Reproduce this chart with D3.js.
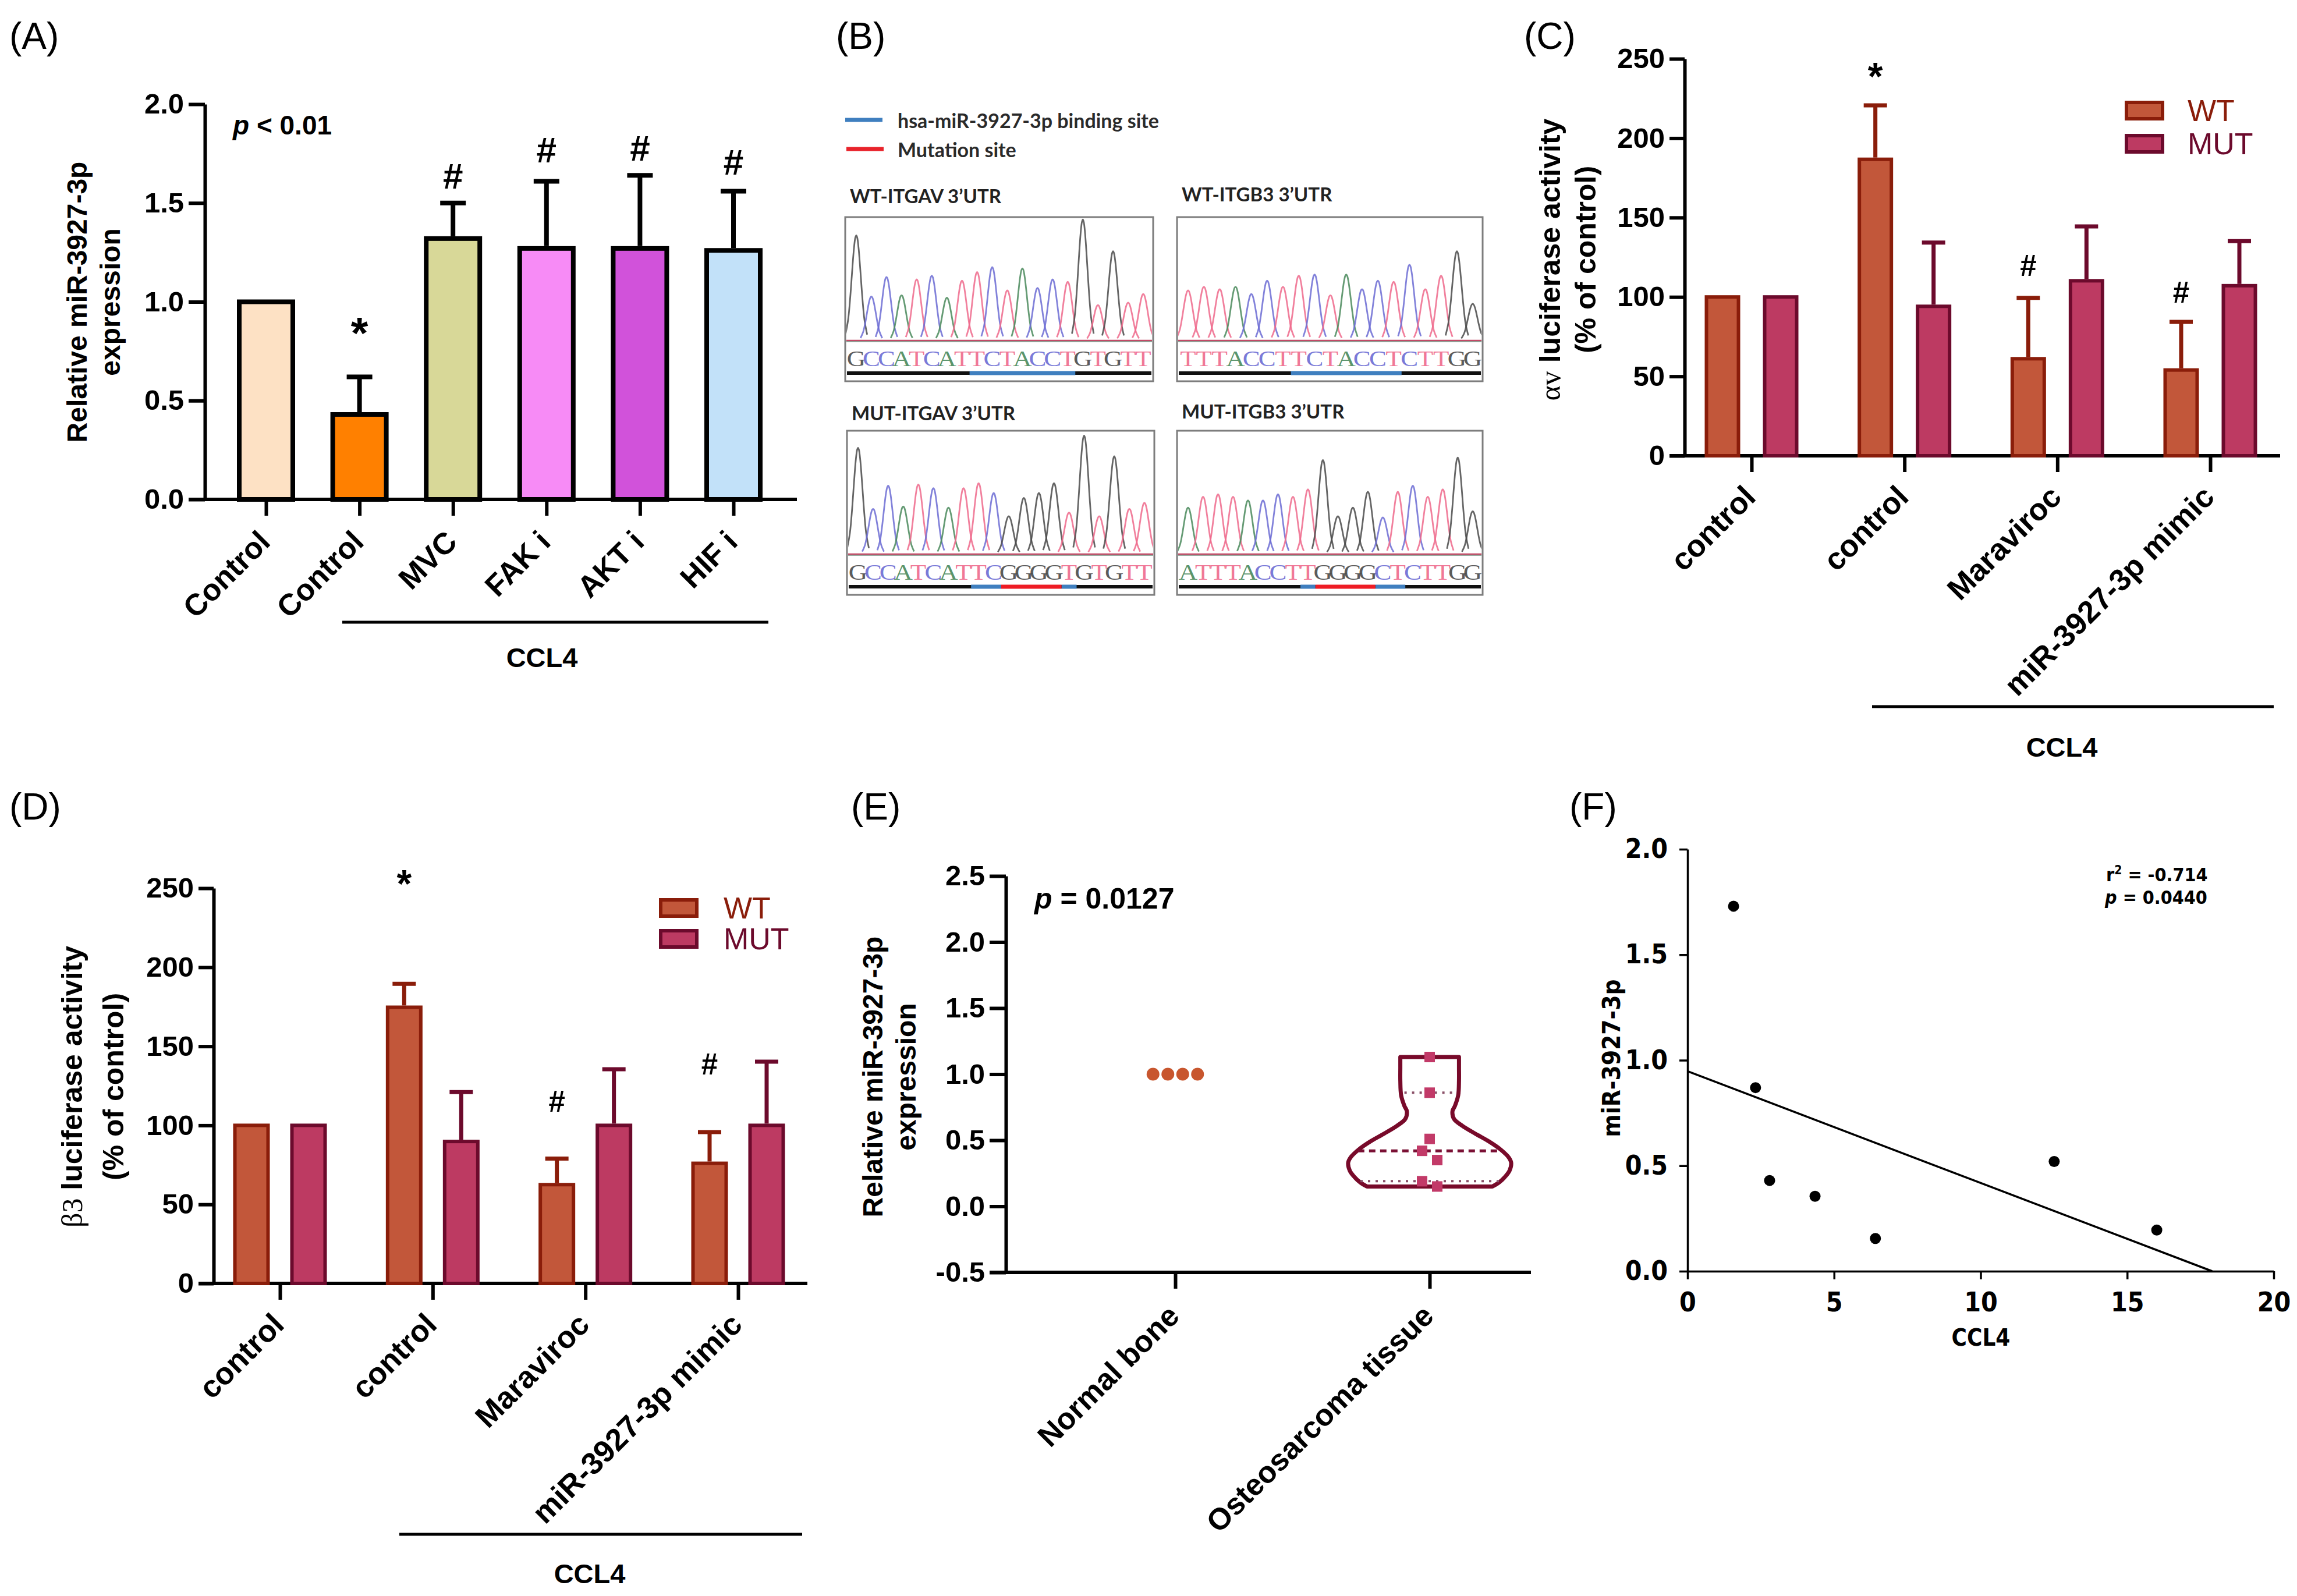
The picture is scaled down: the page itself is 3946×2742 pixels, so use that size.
<!DOCTYPE html>
<html><head><meta charset="utf-8">
<script src="https://cdn.jsdelivr.net/npm/d3@7"></script>
<style>
body{margin:0;background:#fff}
svg{display:block}
</style></head><body>
<svg id="fig" width="3946" height="2742"></svg>
<script>
// ================= DATA =================
// Panel A
const aCategories = ["Control","Control","MVC","FAK i","AKT i","HIF i"];
const aValues = [1.0, 0.43, 1.32, 1.27, 1.27, 1.26];
const aErrors = [0, 0.19, 0.18, 0.34, 0.37, 0.30];
const aMarks = ["", "*", "#", "#", "#", "#"];
const aMarkY = [0, 0.89, 1.64, 1.77, 1.78, 1.71];
const aColors = ["#FDE1C4","#FF8000","#D8D898","#F78BF6","#D152DA","#C2E1F9"];
const aTicks = [0, 0.5, 1.0, 1.5, 2.0];

// Panel B (chromatograms)
const bSeqWtAv = "GCCATCATTCTACCTGTGTT";
const bPeakWtAv = [0.86,0.36,0.52,0.37,0.50,0.53,0.35,0.49,0.56,0.60,0.41,0.59,0.43,0.50,0.48,0.99,0.29,0.73,0.31,0.38];
const bSeqWtB3 = "TTTACCTTCTACCTCTTGG";
const bPeakWtB3 = [0.41,0.44,0.42,0.44,0.38,0.49,0.44,0.53,0.54,0.37,0.54,0.42,0.49,0.48,0.62,0.42,0.53,0.73,0.30];
const bSeqMutAv = "GCCATCATTCGGGGTGTGTT";
const bPeakMutAv = [0.87,0.37,0.56,0.39,0.57,0.54,0.38,0.54,0.58,0.50,0.31,0.46,0.50,0.58,0.34,0.97,0.31,0.80,0.37,0.42];
const bSeqMutB3 = "ATTTACCTTGGGGCTCTTGG";
const bPeakMutB3 = [0.38,0.47,0.49,0.47,0.44,0.44,0.49,0.47,0.53,0.77,0.31,0.38,0.51,0.30,0.51,0.56,0.47,0.53,0.79,0.35];
const bBindWtAv = [[8,14]];  const bMutWtAv = [];
const bBindMutAv = [[8,9],[14,14]]; const bMutMutAv = [[10,13]];
const bBindWtB3 = [[7,13]];  const bMutWtB3 = [];
const bBindMutB3 = [[8,8],[13,14]]; const bMutMutB3 = [[9,12]];
const bTitles = ["WT-ITGAV 3\u2019UTR","WT-ITGB3 3\u2019UTR","MUT-ITGAV 3\u2019UTR","MUT-ITGB3 3\u2019UTR"];
const bLegend = ["hsa-miR-3927-3p binding site","Mutation site"];

// Panel C (alpha v luciferase)
const cCategories = ["control","control","Maraviroc","miR-3927-3p mimic"];
const cWT = [100, 186.7, 61.1, 54.0];
const cWTerr = [0, 34.0, 38.3, 30.3];
const cMUT = [100, 94.1, 110.2, 107.1];
const cMUTerr = [0, 40.2, 34.2, 28.1];
const cMarks = ["", "*", "#", "#"];
const cMarkY = [0, 244, 120, 103];

// Panel D (beta3 luciferase)
const dCategories = ["control","control","Maraviroc","miR-3927-3p mimic"];
const dWT = [100, 174.7, 62.5, 76.0];
const dWTerr = [0, 14.8, 16.5, 19.7];
const dMUT = [100, 89.8, 100, 100];
const dMUTerr = [0, 31.2, 35.5, 40.3];
const dMarks = ["", "*", "#", "#"];
const dMarkY = [0, 258, 115.5, 139];
const lucTicks = [0, 50, 100, 150, 200, 250];
const seriesNames = ["WT","MUT"];

// Panel E
const eGroups = ["Normal bone","Osteosarcoma tissue"];
const eNormal = [1.0, 1.0, 1.0, 1.0];
const eNormalSlot = [-1.5, -0.5, 0.5, 1.5];
const eTumor = [1.13, 0.86, 0.51, 0.42, 0.35, 0.19, 0.15];
const eTumorSlot = [0, 0, 0, -1, 1, -1, 1];
const eViolinLevel = [1.13,1.05,0.95,0.84,0.76,0.72,0.66,0.61,0.55,0.49,0.43,0.37,0.33,0.27,0.22,0.18,0.15];
const eViolinDensity = [0.36,0.36,0.36,0.35,0.31,0.28,0.30,0.40,0.56,0.73,0.87,0.97,1.0,0.98,0.92,0.85,0.77];
const eQuartiles = [0.86, 0.42, 0.19];
const eQuartileDensity = [0.31, 0.88, 0.85];
const eTicks = [-0.5, 0.0, 0.5, 1.0, 1.5, 2.0, 2.5];

// Panel F
const fCCL4 = [1.57, 2.32, 2.80, 4.35, 6.41, 12.51, 16.01];
const fMiR = [1.73, 0.87, 0.43, 0.355, 0.155, 0.52, 0.195];
const fFitX = [0, 17.9];
const fFitY = [0.948, 0];
const fXTicks = [0, 5, 10, 15, 20];
const fYTicks = [0, 0.5, 1.0, 1.5, 2.0];

const panelLabels = ["(A)","(B)","(C)","(D)","(E)","(F)"];

// ================= DRAWING =================
const FONT = '"Liberation Sans", Arial, Helvetica, sans-serif';
const NARROW = '"Liberation Sans Narrow", "Arial Narrow", "DejaVu Sans Condensed", sans-serif';
const SERIF = '"Liberation Serif", "Times New Roman", serif';
const CAL = 'Lato, "Open Sans", sans-serif';

const svg = d3.select("#fig");
svg.append("rect").attr("width",3946).attr("height",2742).attr("fill","#fff");

function txt(g, s, x, y, o = {}) {
  const t = g.append("text").attr("x", x).attr("y", y).text(s)
    .style("font-family", o.fam || FONT).style("font-size", (o.fs || 48) + "px")
    .style("font-weight", o.fw || "bold").style("font-style", o.fi || "normal")
    .attr("fill", o.fill || "#000").attr("text-anchor", o.anchor || "start");
  if (o.db) t.attr("dominant-baseline", o.db);
  return t;
}
function styleAxis(g, o) {
  g.select(".domain").attr("stroke", "#000").attr("stroke-width", o.sw);
  g.selectAll(".tick line").attr("stroke", "#000").attr("stroke-width", o.sw);
  g.selectAll(".tick text").attr("fill", "#000")
    .style("font-family", o.fam || FONT).style("font-size", o.fs + "px").style("font-weight", o.fw || "bold");
}
function yLabel2(g, lines, xs, yc, fs) {
  lines.forEach((s, i) => {
    g.append("text").attr("transform", `translate(${xs[i]},${yc}) rotate(-90)`)
      .attr("text-anchor", "middle").attr("dominant-baseline", "central")
      .style("font-family", FONT).style("font-size", fs + "px").style("font-weight", "bold").text(s);
  });
}
function rotLabel(g, s, x, y, fs) {
  g.append("text").attr("transform", `translate(${x},${y}) rotate(-45)`)
    .attr("text-anchor", "end").style("font-family", FONT).style("font-size", fs + "px").style("font-weight", "bold").text(s);
}
function markBaseline(m, fs) { return m === "*" ? 0.55 * fs : 0.36 * fs; }

// Panel labels
const plPos = [[16,84],[1436,84],[2618,84],[16,1408],[1462,1408],[2696,1408]];
panelLabels.forEach((s, i) => txt(svg, s, plPos[i][0], plPos[i][1], {fs: 64, fw: "normal"}));

// ---------- Panel A ----------
{
  const g = svg.append("g");
  const y = d3.scaleLinear().domain([0, 2]).range([858, 179]);
  const x = d3.scalePoint().domain(d3.range(aCategories.length)).range([457, 1260]);
  const ya = g.append("g").attr("transform", "translate(352,0)")
    .call(d3.axisLeft(y).tickValues(aTicks).tickFormat(d => d.toFixed(1)).tickSize(28).tickSizeOuter(0).tickPadding(8));
  styleAxis(ya, {sw: 6, fs: 49});
  const xa = g.append("g").attr("transform", "translate(0,858)").call(d3.axisBottom(x).tickSize(28).tickFormat(""));
  xa.select(".domain").remove();
  xa.selectAll(".tick line").attr("stroke", "#000").attr("stroke-width", 6);
  g.append("line").attr("x1", 324).attr("x2", 1369).attr("y1", 858).attr("y2", 858).attr("stroke", "#000").attr("stroke-width", 6);
  const bw = 92;
  g.selectAll("rect.bar").data(aValues).join("rect").attr("class", "bar")
    .attr("x", (d, i) => x(i) - bw / 2).attr("width", bw)
    .attr("y", d => y(d)).attr("height", d => y(0) - y(d))
    .attr("fill", (d, i) => aColors[i]).attr("stroke", "#000").attr("stroke-width", 8);
  aValues.forEach((v, i) => {
    if (aErrors[i] > 0) {
      g.append("line").attr("x1", x(i)).attr("x2", x(i)).attr("y1", y(v) - 4).attr("y2", y(v + aErrors[i])).attr("stroke", "#000").attr("stroke-width", 8);
      g.append("line").attr("x1", x(i) - 22).attr("x2", x(i) + 22).attr("y1", y(v + aErrors[i])).attr("y2", y(v + aErrors[i])).attr("stroke", "#000").attr("stroke-width", 8);
    }
    if (aMarks[i]) {
      const fs = aMarks[i] === "*" ? 76 : 62;
      txt(g, aMarks[i], x(i), y(aMarkY[i]) + markBaseline(aMarks[i], fs), {fs, anchor: "middle"});
    }
  });
  aCategories.forEach((c, i) => rotLabel(g, c, x(i) + 10, 858 + 76, 52));
  const pt = g.append("text").attr("x", 400).attr("y", 231).style("font-family", FONT).style("font-size", "46px").style("font-weight", "bold");
  pt.append("tspan").style("font-style", "italic").text("p");
  pt.append("tspan").text(" < 0.01");
  yLabel2(g, ["Relative miR-3927-3p", "expression"], [132, 189], 519, 48);
  g.append("line").attr("x1", 588).attr("x2", 1320).attr("y1", 1069).attr("y2", 1069).attr("stroke", "#000").attr("stroke-width", 5);
  txt(g, "CCL4", 931, 1146, {fs: 47, anchor: "middle"});
}

// ---------- Panel B ----------
{
  const g = svg.append("g");
  const baseColor = {G: "#4a4a4a", C: "#6c6cd4", A: "#4a8a5c", T: "#ef6a8c"};
  // legend
  g.append("line").attr("x1", 1452).attr("x2", 1516).attr("y1", 206).attr("y2", 206).attr("stroke", "#3f7fbf").attr("stroke-width", 7);
  g.append("line").attr("x1", 1454).attr("x2", 1518).attr("y1", 256).attr("y2", 256).attr("stroke", "#e8232b").attr("stroke-width", 7);
  txt(g, bLegend[0], 1542, 206, {fam: CAL, fs: 34, fw: "bold", fill: "#2a2a2a", db: "central"});
  txt(g, bLegend[1], 1542, 256, {fam: CAL, fs: 34, fw: "bold", fill: "#2a2a2a", db: "central"});
  const boxes = [
    {seq: bSeqWtAv, pk: bPeakWtAv, bind: bBindWtAv, mut: bMutWtAv, bx: 1452, by: 373, bw: 529, ty: 336},
    {seq: bSeqWtB3, pk: bPeakWtB3, bind: bBindWtB3, mut: bMutWtB3, bx: 2022, by: 373, bw: 525, ty: 333},
    {seq: bSeqMutAv, pk: bPeakMutAv, bind: bBindMutAv, mut: bMutMutAv, bx: 1455, by: 740, bw: 528, ty: 709},
    {seq: bSeqMutB3, pk: bPeakMutB3, bind: bBindMutB3, mut: bMutMutB3, bx: 2022, by: 740, bw: 525, ty: 706}
  ];
  const sigmaSteps = [-2.4, -1.8, -1.3, -0.9, -0.5, -0.2, 0, 0.2, 0.5, 0.9, 1.3, 1.8, 2.4];
  boxes.forEach((b, k) => {
    const bh = 282;
    txt(g, bTitles[k], b.bx + 8, b.ty, {fam: CAL, fs: 33, fw: "bold", fill: "#222", db: "central"});
    g.append("rect").attr("x", b.bx).attr("y", b.by).attr("width", b.bw).attr("height", bh)
      .attr("fill", "#fff").attr("stroke", "#7d7d7d").attr("stroke-width", 3);
    const base = b.by + 212;
    const xs = d3.scalePoint().domain(d3.range(b.seq.length)).range([b.bx + 19, b.bx + b.bw - 17]);
    const h = d3.scaleLinear().domain([0, 1]).range([base, b.by + 2]);
    const step = xs.step();
    const sig = step * 0.3;
    const line = d3.line().curve(d3.curveCatmullRom);
    const clipId = "clipB" + k;
    g.append("clipPath").attr("id", clipId).append("rect").attr("x", b.bx + 2).attr("y", b.by + 2).attr("width", b.bw - 4).attr("height", bh - 4);
    const pg = g.append("g").attr("clip-path", `url(#${clipId})`);
    pg.append("line").attr("x1", b.bx + 2).attr("x2", b.bx + b.bw - 2).attr("y1", base).attr("y2", base).attr("stroke", "#c24a66").attr("stroke-width", 2.5);
    pg.append("line").attr("x1", b.bx + 2).attr("x2", b.bx + b.bw - 2).attr("y1", base + 2).attr("y2", base + 2).attr("stroke", "#3d6650").attr("stroke-width", 1.5).attr("opacity", 0.7);
    b.seq.split("").forEach((ch, i) => {
      const cx = xs(i), H = base - h(b.pk[i]);
      const pts = sigmaSteps.map(t => [cx + t * sig, base - H * Math.exp(-t * t / 2)]);
      pg.append("path").attr("d", line(pts)).attr("fill", "none").attr("stroke", baseColor[ch]).attr("stroke-width", 2.8).attr("opacity", 0.85).attr("stroke-linejoin", "round");
      g.append("text").attr("x", cx).attr("y", b.by + 243).attr("text-anchor", "middle").attr("dominant-baseline", "central")
        .attr("transform", `translate(${cx},0) scale(1.15,1) translate(${-cx},0)`)
        .style("font-family", SERIF).style("font-size", "39px").attr("fill", baseColor[ch]).attr("opacity", 0.9).text(ch);
    });
    const uy = b.by + 268;
    g.append("line").attr("x1", b.bx + 3).attr("x2", b.bx + b.bw - 3).attr("y1", uy).attr("y2", uy).attr("stroke", "#111").attr("stroke-width", 6);
    b.bind.forEach(s => g.append("line").attr("x1", xs(s[0]) - step / 2).attr("x2", xs(s[1]) + step / 2).attr("y1", uy).attr("y2", uy).attr("stroke", "#3f7fbf").attr("stroke-width", 7));
    b.mut.forEach(s => g.append("line").attr("x1", xs(s[0]) - step / 2).attr("x2", xs(s[1]) + step / 2).attr("y1", uy).attr("y2", uy).attr("stroke", "#ee1c24").attr("stroke-width", 7));
  });
}

// ---------- Panels C & D ----------
function grouped(c) {
  const g = svg.append("g");
  const y = d3.scaleLinear().domain([0, 250]).range([c.yBot, c.yTop]);
  const x = d3.scalePoint().domain(d3.range(c.cats.length)).range(c.gr);
  const sub = d3.scalePoint().domain(seriesNames).range([-c.off, c.off]);
  const ya = g.append("g").attr("transform", `translate(${c.x0},0)`)
    .call(d3.axisLeft(y).tickValues(lucTicks).tickFormat(d3.format("d")).tickSize(26).tickSizeOuter(0).tickPadding(8));
  styleAxis(ya, {sw: 6, fs: 49});
  const xa = g.append("g").attr("transform", `translate(0,${c.yBot})`).call(d3.axisBottom(x).tickSize(28).tickFormat(""));
  xa.select(".domain").remove();
  xa.selectAll(".tick line").attr("stroke", "#000").attr("stroke-width", 6);
  g.append("line").attr("x1", c.x0 - 26).attr("x2", c.xEnd).attr("y1", c.yBot).attr("y2", c.yBot).attr("stroke", "#000").attr("stroke-width", 6);
  const series = [
    {key: "WT", v: c.wt, e: c.wtE, fill: "#C2573A", stroke: "#8A1D0A"},
    {key: "MUT", v: c.mut, e: c.mutE, fill: "#BD3A62", stroke: "#6C0A2C"}
  ];
  const bw = c.bw - 6;
  series.forEach(s => {
    g.selectAll(null).data(s.v).join("rect")
      .attr("x", (d, i) => x(i) + sub(s.key) - bw / 2).attr("width", bw)
      .attr("y", d => y(d)).attr("height", d => y(0) - y(d))
      .attr("fill", s.fill).attr("stroke", s.stroke).attr("stroke-width", 6);
    s.v.forEach((v, i) => {
      if (s.e[i] > 0) {
        const cx = x(i) + sub(s.key);
        g.append("line").attr("x1", cx).attr("x2", cx).attr("y1", y(v) - 3).attr("y2", y(v + s.e[i])).attr("stroke", s.stroke).attr("stroke-width", 7);
        g.append("line").attr("x1", cx - 20).attr("x2", cx + 20).attr("y1", y(v + s.e[i])).attr("y2", y(v + s.e[i])).attr("stroke", s.stroke).attr("stroke-width", 7);
      }
    });
  });
  c.marks.forEach((m, i) => {
    if (!m) return;
    const fs = m === "*" ? 66 : 51;
    txt(g, m, x(i) + sub("WT"), y(c.markY[i]) + markBaseline(m, fs), {fs, anchor: "middle"});
  });
  c.cats.forEach((s, i) => rotLabel(g, s, x(i) + 10, c.yBot + c.labDy, 53));
  // legend
  series.forEach((s, k) => {
    const ly = c.leg[1] + k * c.legStep;
    g.append("rect").attr("x", c.leg[0] + 3).attr("y", ly + 3).attr("width", 62).attr("height", 28)
      .attr("fill", s.fill).attr("stroke", s.stroke).attr("stroke-width", 6);
    txt(g, s.key, c.legTx, ly + 17, {fs: 52, fw: "normal", fill: s.stroke, db: "central"});
  });
  // y label
  const l1 = g.append("text").attr("transform", `translate(${c.ylx[0]},${c.ylc}) rotate(-90)`)
    .attr("text-anchor", "middle").attr("dominant-baseline", "central").style("font-size", "50px");
  l1.append("tspan").style("font-family", SERIF).style("font-weight", "normal").text(c.greek);
  l1.append("tspan").style("font-family", FONT).style("font-weight", "bold").text(" luciferase activity");
  g.append("text").attr("transform", `translate(${c.ylx[1]},${c.ylc}) rotate(-90)`)
    .attr("text-anchor", "middle").attr("dominant-baseline", "central")
    .style("font-family", FONT).style("font-size", "50px").style("font-weight", "bold").text("(% of control)");
  g.append("line").attr("x1", c.ccl[0]).attr("x2", c.ccl[1]).attr("y1", c.ccl[2]).attr("y2", c.ccl[2]).attr("stroke", "#000").attr("stroke-width", 5);
  txt(g, "CCL4", c.cclT[0], c.cclT[1], {fs: 47, anchor: "middle"});
}
grouped({cats: cCategories, wt: cWT, wtE: cWTerr, mut: cMUT, mutE: cMUTerr, marks: cMarks, markY: cMarkY,
  x0: 2894, yTop: 101, yBot: 783, xEnd: 3917, gr: [3009, 3797], off: 50, bw: 61, labDy: 74,
  leg: [3650, 173], legStep: 57, legTx: 3758, greek: "\u03B1v", ylx: [2663, 2724], ylc: 446,
  ccl: [3216, 3906, 1214], cclT: [3542, 1300]});
grouped({cats: dCategories, wt: dWT, wtE: dWTerr, mut: dMUT, mutE: dMUTerr, marks: dMarks, markY: dMarkY,
  x0: 367, yTop: 1526, yBot: 2205, xEnd: 1387, gr: [481, 1268], off: 49, bw: 63, labDy: 74,
  leg: [1132, 1543], legStep: 53, legTx: 1243, greek: "\u03B23", ylx: [124, 195], ylc: 1867,
  ccl: [686, 1378, 2636], cclT: [1013, 2720]});

// ---------- Panel E ----------
{
  const g = svg.append("g");
  const y = d3.scaleLinear().domain([-0.5, 2.5]).range([2186, 1505]);
  const x = d3.scalePoint().domain(eGroups).range([2019, 2456]);
  const ya = g.append("g").attr("transform", "translate(1728,0)")
    .call(d3.axisLeft(y).tickValues(eTicks).tickFormat(d => d.toFixed(1)).tickSize(28).tickSizeOuter(0).tickPadding(8));
  styleAxis(ya, {sw: 6, fs: 49});
  const xa = g.append("g").attr("transform", "translate(0,2186)").call(d3.axisBottom(x).tickSize(28).tickFormat(""));
  xa.select(".domain").remove();
  xa.selectAll(".tick line").attr("stroke", "#000").attr("stroke-width", 6);
  g.append("line").attr("x1", 1700).attr("x2", 2630).attr("y1", 2186).attr("y2", 2186).attr("stroke", "#000").attr("stroke-width", 6);
  // violin
  const cx = x(eGroups[1]);
  const w = d3.scaleLinear().domain([0, 1]).range([0, 140]);
  const vd = eViolinLevel.map((v, i) => ({v, d: eViolinDensity[i]}));
  const area = d3.area().y(d => y(d.v)).x0(d => cx - w(d.d)).x1(d => cx + w(d.d)).curve(d3.curveCatmullRom);
  g.append("path").attr("d", area(vd)).attr("fill", "none").attr("stroke", "#780A2A").attr("stroke-width", 7).attr("stroke-linejoin", "round");
  eQuartiles.forEach((q, i) => {
    const med = i === 1;
    g.append("line").attr("x1", cx - w(eQuartileDensity[i])).attr("x2", cx + w(eQuartileDensity[i])).attr("y1", y(q)).attr("y2", y(q))
      .attr("stroke", med ? "#7a1034" : "#8a5068").attr("stroke-width", med ? 5 : 4)
      .attr("stroke-dasharray", med ? "11 8" : "4 9");
  });
  g.selectAll("rect.pt").data(eTumor).join("rect").attr("class", "pt")
    .attr("x", (d, i) => cx + eTumorSlot[i] * 13 - 9).attr("y", d => y(d) - 9).attr("width", 18).attr("height", 18).attr("fill", "#C23A68");
  g.selectAll("circle.pt").data(eNormal).join("circle").attr("class", "pt")
    .attr("cx", (d, i) => x(eGroups[0]) + eNormalSlot[i] * 25.5).attr("cy", d => y(d)).attr("r", 11).attr("fill", "#C8562E");
  eGroups.forEach(s => rotLabel(g, s, x(s) + 10, 2186 + 78, 52));
  const pt = g.append("text").attr("x", 1777).attr("y", 1561).style("font-family", FONT).style("font-size", "50px").style("font-weight", "bold");
  pt.append("tspan").style("font-style", "italic").text("p");
  pt.append("tspan").text(" = 0.0127");
  yLabel2(g, ["Relative miR-3927-3p", "expression"], [1499, 1556], 1850, 48);
}

// ---------- Panel F ----------
{
  const g = svg.append("g");
  const x = d3.scaleLinear().domain([0, 20]).range([2899, 3906]);
  const y = d3.scaleLinear().domain([0, 2]).range([2184, 1459]);
  const ya = g.append("g").attr("transform", "translate(2899,0)")
    .call(d3.axisLeft(y).tickValues(fYTicks).tickFormat(d => d.toFixed(1)).tickSize(14).tickSizeOuter(0).tickPadding(20));
  styleAxis(ya, {sw: 3.5, fs: 46, fam: NARROW});
  const xa = g.append("g").attr("transform", "translate(0,2184)")
    .call(d3.axisBottom(x).tickValues(fXTicks).tickFormat(d3.format("d")).tickSize(14).tickSizeOuter(0).tickPadding(22));
  styleAxis(xa, {sw: 3.5, fs: 46, fam: NARROW});
  g.append("path").attr("d", d3.line().x(d => x(d[0])).y(d => y(d[1]))(fFitX.map((v, i) => [v, fFitY[i]])))
    .attr("stroke", "#000").attr("stroke-width", 3.5).attr("fill", "none");
  g.selectAll("circle").data(fCCL4).join("circle")
    .attr("cx", d => x(d)).attr("cy", (d, i) => y(fMiR[i])).attr("r", 9.5).attr("fill", "#000");
  const r1 = g.append("text").attr("x", 3618).attr("y", 1514).style("font-family", NARROW).style("font-size", "32px").style("font-weight", "bold");
  r1.append("tspan").text("r");
  r1.append("tspan").attr("dy", -12).style("font-size", "21px").text("2");
  r1.append("tspan").attr("dy", 12).text(" = -0.714");
  const r2 = g.append("text").attr("x", 3616).attr("y", 1553).style("font-family", NARROW).style("font-size", "32px").style("font-weight", "bold");
  r2.append("tspan").style("font-style", "italic").text("p");
  r2.append("tspan").text(" = 0.0440");
  g.append("text").attr("transform", "translate(2768,1818) rotate(-90)").attr("text-anchor", "middle").attr("dominant-baseline", "central")
    .style("font-family", NARROW).style("font-size", "42px").style("font-weight", "bold").text("miR-3927-3p");
  txt(g, "CCL4", 3403, 2298, {fam: NARROW, fs: 40, anchor: "middle", db: "central"});
}
</script>
</body></html>
